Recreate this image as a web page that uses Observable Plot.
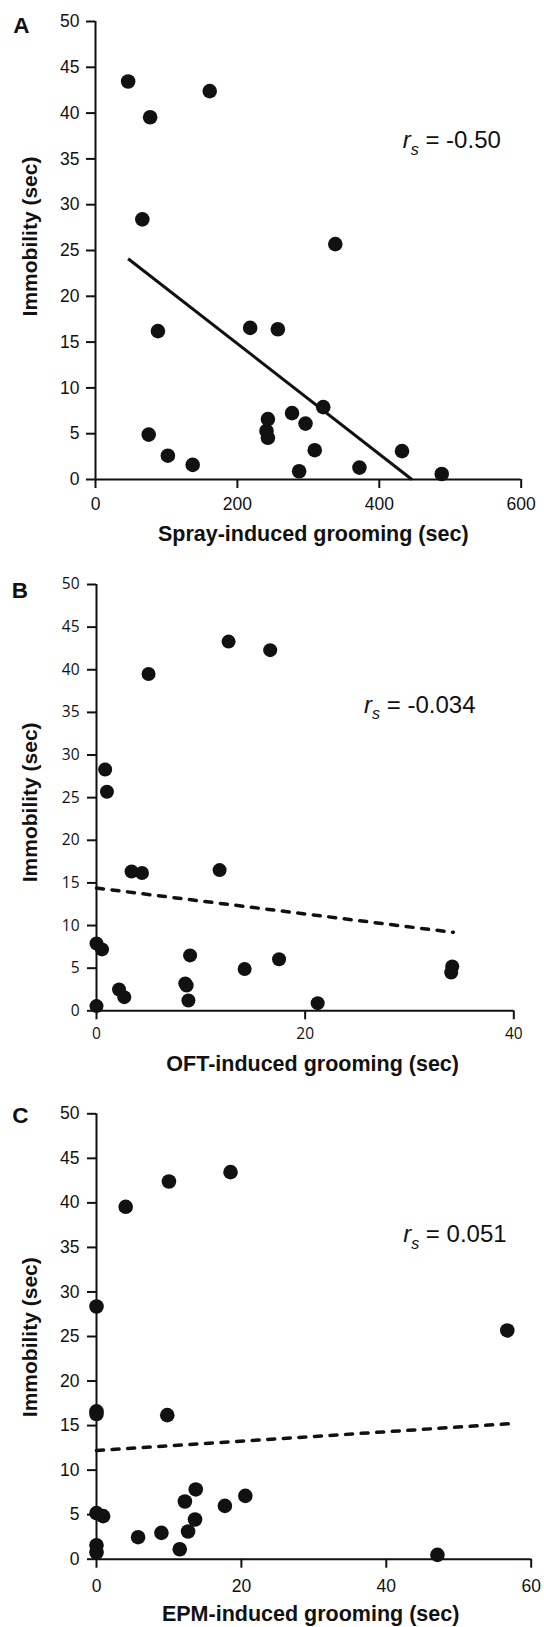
<!DOCTYPE html>
<html><head><meta charset="utf-8">
<script src="https://cdn.jsdelivr.net/npm/d3@7"></script>
<script src="https://cdn.jsdelivr.net/npm/@observablehq/plot@0.6"></script>
<style>
body{margin:0;background:#fff;overflow:hidden}
#chart svg{display:block}
g[aria-label="y-axis tick"] path, g[aria-label="x-axis tick"] path{stroke-width:2}
</style></head><body><div id="chart"></div>
<script>
// ---------- data ----------
const immTicks = [0,5,10,15,20,25,30,35,40,45,50];

// Panel A: spray-induced grooming
const sprayGroom = [46,161,77,66,338,88,218,257,75,102,137,243,241,243,277,296,321,309,287,372,432,488];
const sprayImm   = [43.45,42.4,39.55,28.4,25.7,16.2,16.55,16.4,4.9,2.6,1.6,6.6,5.3,4.55,7.25,6.1,7.9,3.2,0.9,1.3,3.1,0.6];
const sprayFitX = [46,446];
const sprayFitY = [24.1,0];
const sprayTicks = [0,200,400,600];

// Panel B: OFT-induced grooming
const oftGroom = [12.66,16.65,4.99,0.83,1.0,3.36,4.36,11.8,0,0.53,8.97,14.2,17.5,34.1,34.0,2.16,2.66,8.51,8.64,8.81,0,21.2];
const oftImm   = [43.3,42.3,39.5,28.3,25.7,16.33,16.17,16.5,7.9,7.2,6.5,4.9,6.05,5.2,4.5,2.5,1.6,3.2,2.97,1.2,0.55,0.9];
const oftFitX = [0,34.2];
const oftFitY = [14.4,9.2];
const oftTicks = [0,20,40];

// Panel C: EPM-induced grooming
const epmGroom = [18.5,10.0,4.03,0,56.7,0,0,9.77,13.7,20.54,12.2,17.72,0,0.91,13.6,12.64,8.96,5.74,11.49,0,0,47.06];
const epmImm   = [43.45,42.4,39.56,28.37,25.68,16.6,16.3,16.17,7.83,7.11,6.48,5.99,5.17,4.83,4.46,3.11,2.96,2.47,1.12,1.57,0.75,0.49];
const epmFitX = [0,56.9];
const epmFitY = [12.2,15.2];
const epmTicks = [0,20,40,60];

const letters = ["A","B","C"];
const xTitles = ["Spray-induced grooming (sec)","OFT-induced grooming (sec)","EPM-induced grooming (sec)"];
const yTitle = "Immobility (sec)";
const rsValues = ["-0.50","-0.034","0.051"];
const rsAt = [[433.8,36.1],[25.7,34.9],[42.4,35.5]];

// ---------- drawing ----------
const ARIAL = "'Liberation Sans', Arial, Helvetica, sans-serif";
const INK = "#111";

function panel(o){
  const pts = o.xs.map((x,i)=>({x, y:o.ys[i]}));
  const fit = o.fx.map((x,i)=>({x, y:o.fy[i]}));
  const plot = Plot.plot({
    width: 544, height: o.height,
    marginTop: o.mt, marginBottom: o.mb, marginLeft: o.ml, marginRight: o.mr,
    x: {domain: o.xDomain},
    y: {domain: [0,50]},
    style: {fontFamily: ARIAL, color: INK, background: "#fff", overflow: "visible"},
    marks: [
      Plot.axisX({ticks: o.xTicks, tickSize: 9, tickPadding: o.xPad, fontSize: o.tickFS, fontFamily: o.tickFont, label: null}),
      Plot.axisY({ticks: immTicks, tickSize: 9, tickPadding: o.yPad, fontSize: o.tickFS, fontFamily: o.tickFont, label: null}),
      Plot.ruleY([0], {stroke: INK, strokeWidth: 2}),
      Plot.ruleX([0], {stroke: INK, strokeWidth: 2}),
      Plot.line(fit, {x: "x", y: "y", stroke: INK, strokeWidth: o.dashed ? 3.5 : 3,
        strokeDasharray: o.dashed ? "7,8.6" : null, strokeLinecap: o.dashed ? "round" : "butt"}),
      Plot.dot(pts, {x: "x", y: "y", r: o.r, fill: INK, stroke: null}),
      Plot.text([o.letter], {frameAnchor: "top-left", textAnchor: "start", lineAnchor: "middle",
        dx: o.letterDx, dy: o.letterDy, fontSize: 22.5, fontWeight: "bold", fill: INK}),
      Plot.text([o.xTitle], {frameAnchor: "bottom", textAnchor: "middle", lineAnchor: "bottom",
        dx: o.xtDx, dy: o.xtDy, fontSize: 21.5, fontWeight: "bold", fill: INK}),
      Plot.text([yTitle], {frameAnchor: "left", textAnchor: "middle", lineAnchor: "middle", rotate: -90,
        dx: o.ytDx, dy: o.ytDy, fontSize: 21, fontWeight: "bold", fill: INK})
    ]
  });
  const sx = plot.scale("x"), sy = plot.scale("y");
  const t = d3.select(plot).append("text")
    .attr("x", sx.apply(o.rsAt[0])).attr("y", sy.apply(o.rsAt[1]))
    .attr("text-anchor", "start")
    .attr("font-family", ARIAL).attr("font-size", 24).attr("fill", INK);
  t.append("tspan").attr("font-style","italic").text("r");
  t.append("tspan").attr("font-style","italic").attr("font-size",16).attr("dy",6.5).text("s");
  t.append("tspan").attr("dy",-6.5).text(" = " + o.rs);
  return plot;
}

const chart = document.getElementById("chart");
chart.append(panel({
  xs: sprayGroom, ys: sprayImm, fx: sprayFitX, fy: sprayFitY, dashed: false,
  xDomain: [0,600], xTicks: sprayTicks, height: 550, mt: 21, mb: 71, ml: 95, mr: 23.3,
  tickFS: 17.5, tickFont: ARIAL, xPad: 9.5, yPad: 7,
  r: 7.3, letter: letters[0], letterDx: -82.2, letterDy: 4,
  xTitle: xTitles[0], xtDx: 4.9, xtDy: 61, ytDx: -65, ytDy: -14,
  rs: rsValues[0], rsAt: rsAt[0]
}));
chart.append(panel({
  xs: oftGroom, ys: oftImm, fx: oftFitX, fy: oftFitY, dashed: true,
  xDomain: [0,40], xTicks: oftTicks, height: 540, mt: 34, mb: 79.7, ml: 96, mr: 30.7,
  tickFS: 15.5, tickFont: "'Open Sans', 'Noto Sans', sans-serif", xPad: 8, yPad: 8,
  r: 7, letter: letters[1], letterDx: -84.7, letterDy: 5.8,
  xTitle: xTitles[1], xtDx: 7.5, xtDy: 60.4, ytDx: -66, ytDy: 4.7,
  rs: rsValues[1], rsAt: rsAt[1]
}));
chart.append(panel({
  xs: epmGroom, ys: epmImm, fx: epmFitX, fy: epmFitY, dashed: true,
  xDomain: [0,60], xTicks: epmTicks, height: 537, mt: 23.3, mb: 68.3, ml: 96, mr: 13.3,
  tickFS: 17.5, tickFont: ARIAL, xPad: 11, yPad: 8,
  r: 7.3, letter: letters[2], letterDx: -84.2, letterDy: 1.5,
  xTitle: xTitles[2], xtDx: -3.2, xtDy: 62, ytDx: -66, ytDy: 0.7,
  rs: rsValues[2], rsAt: rsAt[2]
}));
</script></body></html>
